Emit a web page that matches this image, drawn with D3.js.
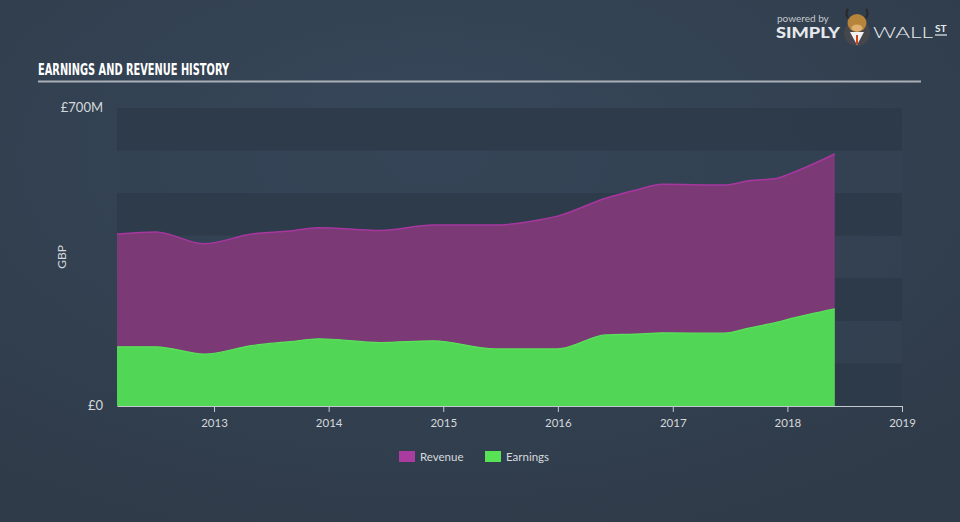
<!DOCTYPE html>
<html><head><meta charset="utf-8">
<script src="https://cdnjs.cloudflare.com/ajax/libs/d3/7.8.5/d3.min.js"></script>
<style>html,body{margin:0;padding:0;background:#323f4f;}svg{display:block;}</style>
</head><body>
<svg id="c" width="960" height="522"></svg>
<script>
const dates = ["2012-02-27","2012-06-30","2012-12-01","2013-05-01","2013-08-31","2013-12-01","2014-06-15","2014-11-30","2015-06-15","2015-11-01","2015-12-31","2016-06-01","2016-08-31","2016-11-30","2017-06-15","2017-08-31","2017-11-30","2017-12-31","2018-06-01"];
const revenue = [404,409,381,404,411,419,412,425,425,437,446,488,506,521,519,529,535,543,592];
const earnings = [139,139,122,142,151,158,149,153,134,134,134,167,169,172,171,183,197,203,228];
const yTicks = [0,700];
const xTickYears = [2013,2014,2015,2016,2017,2018,2019];
const legendItems = ["Revenue","Earnings"];

const svg = d3.select("#c");
const W = 960, H = 522;
const defs = svg.append("defs");
const g = defs.append("radialGradient").attr("id","bg").attr("cx","0.45").attr("cy","0.3").attr("r","0.75");
g.append("stop").attr("offset","0").attr("stop-color","#37485b");
g.append("stop").attr("offset","1").attr("stop-color","#2f3b49");
svg.append("rect").attr("width",W).attr("height",H).attr("fill","url(#bg)");

const parse = d3.timeParse("%Y-%m-%d");
const data = dates.map((d,i)=>({t:parse(d), r:revenue[i], e:earnings[i]}));
const L=117, R=902, T=108, B=406;
const x = d3.scaleTime().domain([parse("2012-02-27"), new Date(2019,0,1)]).range([L,R]);
const y = d3.scaleLinear().domain([0,700]).range([B,T]);

// bands
const bandVals = d3.range(0,700,100);
svg.append("g").selectAll("rect").data(bandVals).join("rect")
  .attr("x",L).attr("width",R-L)
  .attr("y",d=>y(d+100)).attr("height",d=>y(d)-y(d+100))
  .attr("fill",d=>((d/100)%2===0)?"#2d3a49":"#334354")
  .attr("opacity",d=>((d/100)%2===0)?0.85:0.6);

const curve = d3.curveMonotoneX;
const areaR = d3.area().x(d=>x(d.t)).y0(B).y1(d=>y(d.r)).curve(curve);
const areaE = d3.area().x(d=>x(d.t)).y0(B).y1(d=>y(d.e)).curve(curve);
const lineR = d3.line().x(d=>x(d.t)).y(d=>y(d.r)).curve(curve);
const lineE = d3.line().x(d=>x(d.t)).y(d=>y(d.e)).curve(curve);
svg.append("path").datum(data).attr("d",areaR).attr("fill","#7b3975");
svg.append("path").datum(data).attr("d",lineR).attr("fill","none").attr("stroke","#a7379f").attr("stroke-width",1.5);
svg.append("path").datum(data).attr("d",areaE).attr("fill","#52d656");
svg.append("path").datum(data).attr("d",lineE).attr("fill","none").attr("stroke","#5ae35a").attr("stroke-width",1.2);

// x axis
const xa = svg.append("g").attr("transform",`translate(0,${B})`)
  .call(d3.axisBottom(x).tickValues(xTickYears.map(yr=>new Date(yr,0,1))).tickFormat(d3.timeFormat("%Y")).tickSize(6).tickSizeOuter(0));
xa.select(".domain").attr("stroke","#c3c9cf").attr("stroke-width",1.2);
xa.selectAll(".tick line").attr("stroke","#c3c9cf");
xa.selectAll("text").attr("fill","#d5d9dd").attr("font-family","Lato, sans-serif").attr("font-size","11.5px").attr("dy","1.05em");

// y labels
svg.append("g").selectAll("text").data(yTicks).join("text")
  .attr("x",103).attr("y",d=>y(d)-1).attr("dy","0.35em").attr("text-anchor","end")
  .attr("fill","#d5d9dd").attr("font-family","Lato, sans-serif").attr("font-size","13px")
  .text(d=>d===0?"£0":"£"+d+"M");
svg.append("text").attr("transform","translate(66,257) rotate(-90)").attr("text-anchor","middle")
  .attr("fill","#d5d9dd").attr("font-family","Lato, sans-serif").attr("font-size","12px").text("GBP");

// title
svg.append("text").attr("x",38).attr("y",75).attr("fill","#ffffff")
  .attr("font-family","'Liberation Sans Narrow', 'DejaVu Sans Condensed', sans-serif").attr("font-weight","bold")
  .attr("font-size","16px").attr("textLength",191).attr("lengthAdjust","spacingAndGlyphs").text("EARNINGS AND REVENUE HISTORY");
svg.append("line").attr("x1",38).attr("x2",921).attr("y1",81.5).attr("y2",81.5).attr("stroke","#a9b0b8").attr("stroke-width",2);

// legend
const legColors = ["#a93c9e","#58e356"];
const lg = svg.append("g");
const lx = [399,485];
legendItems.forEach((name,i)=>{
  lg.append("rect").attr("x",lx[i]).attr("y",451).attr("width",16).attr("height",11).attr("fill",legColors[i]);
  lg.append("text").attr("x",lx[i]+21).attr("y",460.5).attr("fill","#d5d9dd")
    .attr("font-family","Lato, sans-serif").attr("font-size","11.5px").text(name);
});

// logo
const lo = svg.append("g");
lo.append("text").attr("x",777).attr("y",22).attr("fill","#c4c9ce").attr("font-family","Lato, sans-serif").attr("font-size","10px").text("powered by");
lo.append("text").attr("x",776).attr("y",38).attr("fill","#e6e9ec").attr("font-family","Lato, sans-serif").attr("font-weight","900").attr("font-size","15px").attr("textLength",64).attr("lengthAdjust","spacingAndGlyphs").text("SIMPLY");
lo.append("circle").attr("cx",857).attr("cy",33).attr("r",13).attr("fill","#45474c");
lo.append("path").attr("d","M850,32 L857,45 L864,32 Z").attr("fill","#f2f2f2");
lo.append("line").attr("x1",857).attr("x2",857).attr("y1",35).attr("y2",44).attr("stroke","#d2401c").attr("stroke-width",2);
lo.append("ellipse").attr("cx",857).attr("cy",23).attr("rx",9.5).attr("ry",9).attr("fill","#b6843a");
lo.append("ellipse").attr("cx",857).attr("cy",28).attr("rx",5.5).attr("ry",3.5).attr("fill","#e0b070");
lo.append("path").attr("d","M848,18 Q845,13 848,9 M866,18 Q869,13 866,9").attr("stroke","#2a2a2a").attr("stroke-width",2.2).attr("fill","none");
lo.append("text").attr("x",873).attr("y",38).attr("fill","#e6e9ec").attr("font-family","Lato, sans-serif").attr("font-weight","300").attr("font-size","15px").attr("textLength",60).attr("lengthAdjust","spacingAndGlyphs").text("WALL");
lo.append("text").attr("x",935).attr("y",32).attr("fill","#e6e9ec").attr("font-family","Lato, sans-serif").attr("font-weight","bold").attr("font-size","10px").text("ST");
lo.append("line").attr("x1",935).attr("x2",947).attr("y1",35).attr("y2",35).attr("stroke","#e6e9ec").attr("stroke-width",1.2);
</script>
</body></html>
